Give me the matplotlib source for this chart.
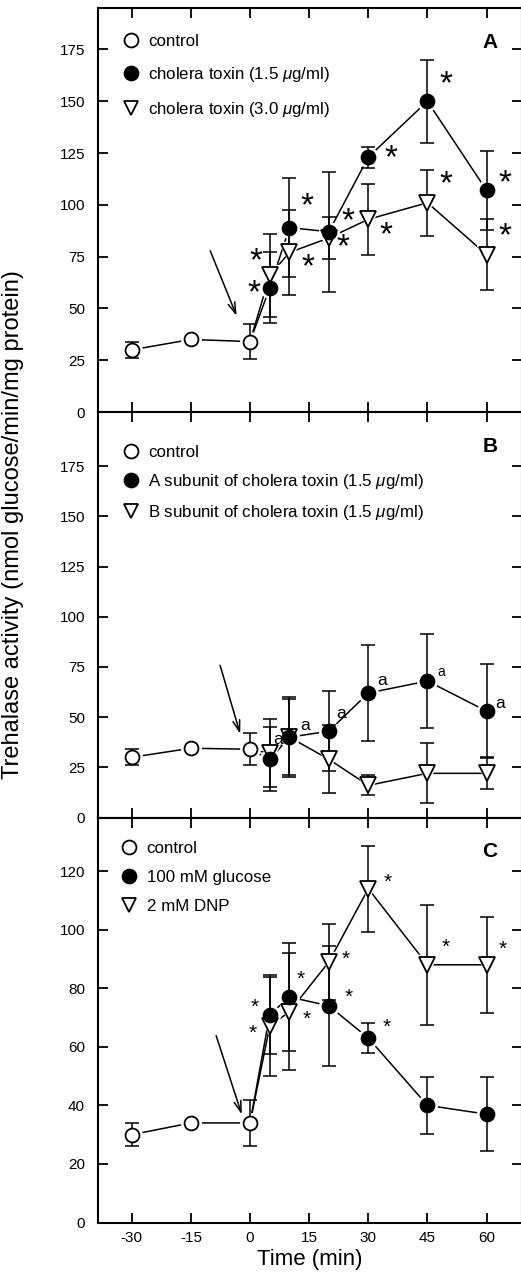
import numpy as np
import matplotlib
matplotlib.use("Agg")
import matplotlib.pyplot as plt
from matplotlib.lines import Line2D

plt.rcParams['font.family'] = ['Liberation Sans', 'DejaVu Sans']
plt.rcParams['mathtext.fontset'] = 'custom'
plt.rcParams['mathtext.rm'] = 'Liberation Sans'
plt.rcParams['mathtext.it'] = 'Liberation Sans:italic'
plt.rcParams['axes.unicode_minus'] = False

# time points (min)
t_ctrl = [-30, -15, 0]
t_trt = [5, 10, 20, 30, 45, 60]

# panel A
ctrl_a = [30, 35, 34]
ctrl_a_err = [4, 0, 8.5]
ct15 = [60, 89, 87, 123, 150, 107]
ct15_err = [17, 24, 29, 5, 20, 19]
ct30 = [66, 77, 84, 93, 101, 76]
ct30_err = [20, 20.5, 10, 17, 16, 17]
labels_a = ['control', r'cholera toxin (1.5 $\mu$g/ml)', r'cholera toxin (3.0 $\mu$g/ml)']
stars_a = [(49.7, 160), (35.8, 124), (64.7, 112), (49.7, 111.5), (14.4, 101),
           (64.7, 86.5), (24.9, 94), (34.5, 87), (23.7, 81.3), (1.4, 74.6),
           (14.8, 71.7), (1.1, 59.3)]

# panel B
ctrl_b = [30, 34.5, 34]
ctrl_b_err = [4, 0, 8]
asub = [29, 40, 43, 62, 68, 53]
asub_err = [16, 20, 20, 24, 23.5, 23.5]
bsub = [32, 40, 29, 16, 22, 22]
bsub_err = [17, 19, 17, 5, 15, 8]
labels_b = ['control', r'A subunit of cholera toxin (1.5 $\mu$g/ml)',
            r'B subunit of cholera toxin (1.5 $\mu$g/ml)']
a_marks = [(7.2, 39, 12.5), (14.0, 46, 12.5), (23.2, 52, 12.5), (33.4, 68, 12.5),
           (48.6, 72.5, 10), (63.4, 56.8, 12.5)]

# panel C
ctrl_c = [30, 34, 34]
ctrl_c_err = [4, 0, 8]
gluc = [71, 77, 74, 63, 40, 37]
gluc_err = [13.5, 18.5, 20.5, 5, 9.7, 12.7]
dnp = [67, 72, 89, 114, 88, 88]
dnp_err = [17, 20, 13, 14.7, 20.5, 16.3]
labels_c = ['control', '100 mM glucose', '2 mM DNP']
stars_c = [(34.9, 117), (49.7, 95), (64.0, 94.3), (24.3, 90.8), (12.8, 84),
           (25.1, 78), (1.1, 74.4), (14.4, 70.3), (0.7, 65.5), (34.7, 67.8)]

W, H = 521, 1279
fig = plt.figure(figsize=(W / 100, H / 100), dpi=100)

left, right = 97.5, 522.0
panels_px = [(8, 412), (412, 817.5), (817.5, 1222.5)]
ylims = [195, 202, 138.3]
yticks = [np.arange(0, 176, 25), np.arange(0, 176, 25), np.arange(0, 121, 20)]

MS = 10
LW = 1.1


def draw_series(ax, x, y, err, marker, filled):
    fc = 'black' if filled else 'white'
    ax.plot(x, y, ls='none', marker=marker, ms=MS + 4, mfc='white', mec='white', zorder=2)
    ax.errorbar(x, y, yerr=err, fmt='none', ecolor='black', elinewidth=LW,
                capsize=5, capthick=LW, zorder=3)
    ax.plot(x, y, ls='none', marker=marker, ms=MS if marker == 'o' else MS + 1,
            mfc=fc, mec='black', mew=1.3, zorder=4)


def panel(ax, ctrl, ctrl_err, s1, s1_err, s2, s2_err):
    # connecting lines (treatments start from the control at t=0)
    ax.plot(t_ctrl, ctrl, color='black', lw=LW, zorder=1)
    ax.plot([t_ctrl[-1]] + t_trt, [ctrl[-1]] + s1, color='black', lw=LW, zorder=1)
    ax.plot([t_ctrl[-1]] + t_trt, [ctrl[-1]] + s2, color='black', lw=LW, zorder=1)
    draw_series(ax, t_ctrl, ctrl, ctrl_err, 'o', False)
    draw_series(ax, t_trt, s2, s2_err, 'v', False)
    draw_series(ax, t_trt, s1, s1_err, 'o', True)


axes = []
for i, (top, bot) in enumerate(panels_px):
    ax = fig.add_axes([left / W, 1 - bot / H, (right - left) / W, (bot - top) / H])
    ax.set_xlim(-38.7, 69.0)
    ax.set_ylim(0, ylims[i])
    ax.set_xticks([-30, -15, 0, 15, 30, 45, 60])
    ax.set_yticks(yticks[i])
    ax.tick_params(direction='in', length=7, width=1.3, top=True, right=True,
                   labelsize=11, pad=6)
    ax.tick_params(axis='y', pad=9)
    for s in ax.spines.values():
        s.set_linewidth(1.5)
    if i < 2:
        ax.tick_params(labelbottom=False)
    axes.append(ax)

ax_a, ax_b, ax_c = axes

panel(ax_a, ctrl_a, ctrl_a_err, ct15, ct15_err, ct30, ct30_err)
panel(ax_b, ctrl_b, ctrl_b_err, asub, asub_err, bsub, bsub_err)
panel(ax_c, ctrl_c, ctrl_c_err, gluc, gluc_err, dnp, dnp_err)

# stars / letters
for x, y in stars_a:
    ax_a.text(x, y - 2, '*', fontsize=24, ha='center', va='center', zorder=5)
for x, y in stars_c:
    ax_c.text(x, y - 1, '*', fontsize=15, ha='center', va='center', zorder=5)
for x, y, fs in a_marks:
    ax_b.text(x, y, 'a', fontsize=fs, ha='center', va='center', zorder=5)

# arrows marking addition
arrows = [(ax_a, (-10.1, 77.8), (-3.4, 46.4)),
          (ax_b, (-7.6, 75.8), (-2.5, 41.7)),
          (ax_c, (-8.6, 63.8), (-2.1, 36.9))]
for ax, start, end in arrows:
    ax.annotate('', xy=end, xytext=start,
                arrowprops=dict(arrowstyle='->,head_length=0.8,head_width=0.25',
                                color='black', lw=1.1, shrinkA=0, shrinkB=0))

# legends
handles = [Line2D([], [], ls='none', marker='o', ms=MS, mfc='white', mec='black', mew=1.3),
           Line2D([], [], ls='none', marker='o', ms=MS, mfc='black', mec='black', mew=1.3),
           Line2D([], [], ls='none', marker='v', ms=MS, mfc='white', mec='black', mew=1.3)]
for ax, labs, sp, anchor in [(ax_a, labels_a, 0.92, (0.026, 0.964)),
                             (ax_b, labels_b, 0.7, (0.026, 0.948)),
                             (ax_c, labels_c, 0.84, (0.022, 0.972))]:
    ax.legend(handles, labs, loc='upper left', bbox_to_anchor=anchor, frameon=False,
              fontsize=12.2, handlelength=1.2, handletextpad=0.45, labelspacing=sp,
              borderaxespad=0.3)

for ax, letter in [(ax_a, 'A'), (ax_b, 'B'), (ax_c, 'C')]:
    ax.text(0.925, 0.915, letter, transform=ax.transAxes, fontsize=15,
            fontweight='bold', ha='center', va='center')

ax_c.set_xlabel('Time (min)', fontsize=16, labelpad=3)
fig.text(13 / W, 1 - 525 / H, 'Trehalase activity (nmol glucose/min/mg protein)',
         rotation=90, fontsize=17, ha='center', va='center')

fig.savefig('out.png', dpi=100)
